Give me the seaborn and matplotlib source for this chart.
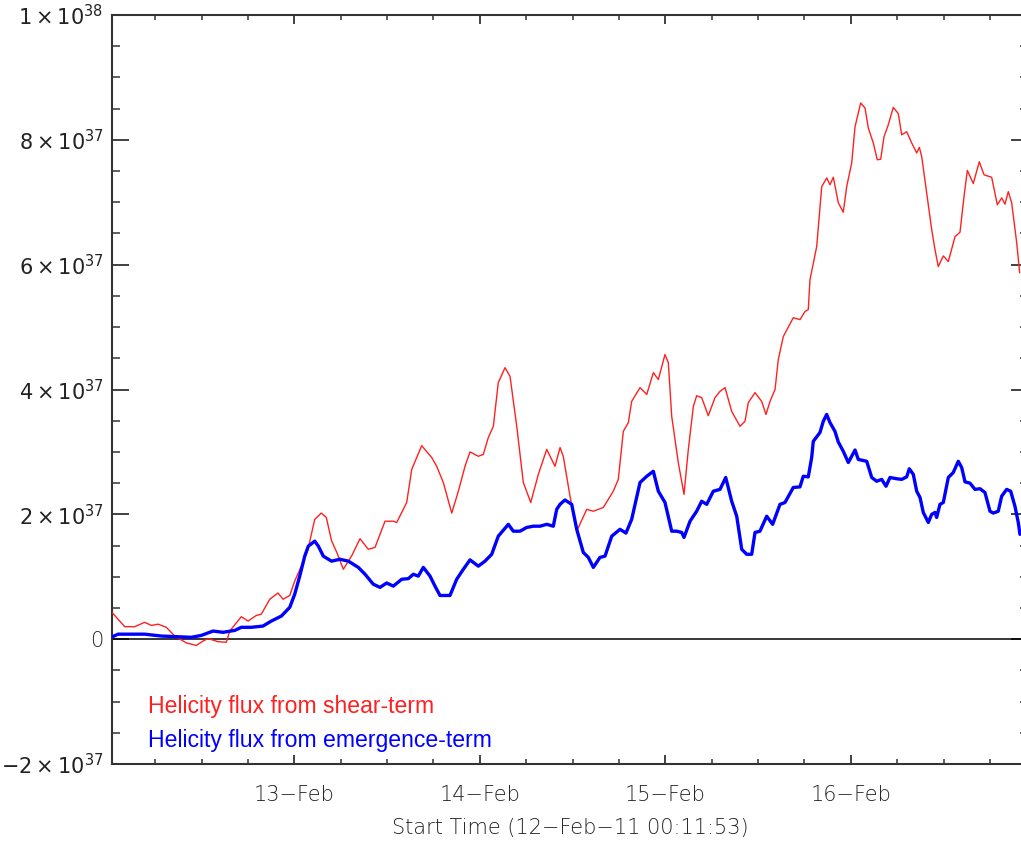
import numpy as np
import pandas as pd
import matplotlib
matplotlib.use("Agg")
import matplotlib.pyplot as plt
import seaborn as sns

# hours since 12-Feb-11 00:00 ; values in units of 1e37
shear_hours = [0.4, 0.97, 2.06, 3.35, 4.64, 5.50, 6.37, 7.44, 8.53, 10.03, 11.32, 12.19, 12.84, 14.13, 15.20,
               15.64, 17.14, 18.01, 19.08, 19.73, 20.82, 21.89, 22.54, 23.41, 24.05, 24.91, 25.77, 26.64, 27.49,
               28.14, 28.81, 29.53, 30.34, 31.40, 32.50, 33.57, 34.44, 35.74, 36.81, 37.25, 38.54, 39.19, 40.48,
               41.78, 42.42, 43.28, 44.37, 45.22, 46.09, 46.73, 47.81, 48.45, 49.10, 49.75, 50.39, 51.26, 51.91,
               52.78, 53.63, 54.59, 55.57, 56.66, 57.73, 58.38, 58.80, 59.67, 60.54, 61.83, 62.69, 63.98, 65.27,
               65.92, 66.57, 67.22, 67.65, 68.73, 69.60, 70.45, 71.10, 71.96, 72.39, 72.83, 73.68, 74.42, 74.98,
               75.63, 76.06, 76.71, 77.56, 78.43, 79.08, 79.73, 80.59, 81.67, 82.31, 82.74, 83.61, 84.47, 85.03,
               85.55, 86.20, 86.62, 87.27, 88.56, 89.43, 90.08, 90.50, 90.72, 91.59, 92.24, 92.89, 93.31, 93.74,
               94.39, 95.03, 95.47, 96.12, 96.55, 97.28, 97.84, 98.27, 98.91, 99.43, 99.87, 100.30, 100.85,
               101.50, 102.15, 102.59, 103.24, 103.88, 104.53, 104.87, 105.18, 105.82, 106.47, 106.90, 107.32,
               107.97, 108.62, 109.49, 110.13, 110.65, 111.08, 111.85, 112.63, 113.24, 114.23, 114.96, 115.53,
               115.95, 116.38, 116.82, 117.47, 117.85]
shear_flux = [0.43, 0.35, 0.20, 0.20, 0.27, 0.22, 0.24, 0.19, 0.05, -0.06, -0.10, -0.03, 0.01, -0.04, -0.05,
              0.13, 0.36, 0.29, 0.38, 0.40, 0.64, 0.74, 0.64, 0.70, 0.93, 1.17, 1.44, 1.92, 2.02,
              1.95, 1.58, 1.38, 1.12, 1.33, 1.61, 1.44, 1.47, 1.89, 1.89, 1.87, 2.19, 2.72, 3.10,
              2.91, 2.77, 2.51, 2.02, 2.37, 2.77, 3.00, 2.93, 2.96, 3.23, 3.41, 4.11, 4.35, 4.21,
              3.41, 2.51, 2.19, 2.64, 3.04, 2.77, 3.07, 2.93, 2.29, 1.73, 2.08, 2.05, 2.11, 2.37,
              2.56, 3.33, 3.47, 3.81, 4.03, 3.92, 4.27, 4.16, 4.56, 4.43, 3.57, 2.83, 2.32, 3.04,
              3.73, 3.90, 3.87, 3.58, 3.87, 3.97, 4.03, 3.65, 3.41, 3.49, 3.79, 3.95, 3.81, 3.60,
              3.81, 4.00, 4.48, 4.85, 5.15, 5.12, 5.25, 5.28, 5.76, 6.29, 7.25, 7.39, 7.28, 7.40,
              6.99, 6.84, 7.25, 7.63, 8.21, 8.59, 8.51, 8.19, 7.95, 7.68, 7.69, 8.05, 8.24,
              8.52, 8.42, 8.08, 8.13, 7.95, 7.79, 7.88, 7.73, 7.15, 6.56, 6.24, 5.97,
              6.14, 6.05, 6.45, 6.52, 7.09, 7.51, 7.30, 7.65, 7.44, 7.40, 6.96, 7.07,
              6.97, 7.17, 6.99, 6.35, 5.87]

emerg_hours = [0.32, 1.19, 2.91, 4.64, 6.79, 10.67, 11.97, 13.48, 14.78, 16.29, 17.14, 18.44, 19.95, 21.02,
               22.32, 23.41, 24.05, 24.70, 25.35, 25.81, 26.64, 27.11, 27.75, 28.81, 29.91, 30.99, 32.28, 33.15,
               34.22, 35.09, 35.95, 36.81, 37.90, 38.75, 39.40, 40.04, 40.69, 41.56, 42.20, 42.85, 44.14, 45.01,
               45.87, 46.73, 47.81, 48.67, 49.54, 50.39, 51.69, 52.33, 53.20, 54.07, 54.92, 55.79, 56.66, 57.51,
               57.95, 58.38, 59.02, 59.89, 60.54, 61.39, 62.04, 62.69, 63.55, 64.20, 65.07, 66.14, 66.91, 67.65,
               68.73, 69.60, 70.45, 71.10, 71.96, 72.83, 73.48, 74.12, 74.42, 75.20, 76.06, 76.71, 77.36, 78.21,
               79.08, 79.82, 80.59, 81.24, 81.89, 82.53, 83.18, 83.61, 84.25, 85.12, 85.89, 86.84, 87.49, 88.56,
               89.43, 89.85, 90.50, 90.94, 91.15, 92.01, 92.44, 92.88, 93.31, 93.95, 94.38, 95.03, 95.68, 96.55,
               96.97, 98.06, 98.71, 99.35, 100.00, 100.56, 101.07, 101.94, 102.59, 103.23, 103.57, 104.09,
               104.53, 104.96, 105.38, 106.03, 106.47, 106.90, 107.11, 107.54, 107.97, 108.62, 109.26, 109.91,
               110.35, 110.78, 111.42, 112.07, 112.72, 113.36, 114.01, 114.44, 115.08, 115.52, 116.17, 116.69,
               117.24, 117.67, 117.89]
emerg_flux = [0.03, 0.08, 0.08, 0.08, 0.05, 0.03, 0.06, 0.13, 0.11, 0.14, 0.19, 0.19, 0.21, 0.29,
              0.37, 0.51, 0.72, 1.01, 1.33, 1.49, 1.57, 1.49, 1.33, 1.25, 1.28, 1.25, 1.15, 1.04,
              0.88, 0.83, 0.90, 0.85, 0.96, 0.97, 1.04, 1.01, 1.15, 1.01, 0.85, 0.70, 0.70, 0.96,
              1.12, 1.27, 1.17, 1.25, 1.36, 1.65, 1.84, 1.73, 1.73, 1.79, 1.81, 1.81, 1.84, 1.81,
              2.08, 2.16, 2.23, 2.16, 1.76, 1.39, 1.31, 1.15, 1.31, 1.33, 1.65, 1.76, 1.70, 1.92,
              2.51, 2.61, 2.69, 2.37, 2.19, 1.73, 1.73, 1.71, 1.63, 1.89, 2.05, 2.21, 2.16, 2.37,
              2.40, 2.59, 2.21, 1.97, 1.44, 1.36, 1.36, 1.71, 1.73, 1.97, 1.84, 2.16, 2.19, 2.43,
              2.44, 2.61, 2.60, 2.91, 3.17, 3.31, 3.49, 3.60, 3.47, 3.33, 3.16, 3.01, 2.83, 3.03,
              2.88, 2.85, 2.59, 2.53, 2.56, 2.45, 2.59, 2.57, 2.56, 2.60, 2.73, 2.64,
              2.37, 2.27, 2.03, 1.87, 2.00, 2.03, 1.95, 2.16, 2.19, 2.59, 2.67, 2.85,
              2.75, 2.52, 2.50, 2.40, 2.41, 2.35, 2.05, 2.02, 2.05, 2.29, 2.40, 2.37,
              2.13, 1.87, 1.68]

ytick_values = [-2, 0, 2, 4, 6, 8, 10]
ytick_labels = [r'$-2\times10^{37}$', '0', r'$2\times10^{37}$', r'$4\times10^{37}$',
                r'$6\times10^{37}$', r'$8\times10^{37}$', r'$1\times10^{38}$']
xtick_values = [24, 48, 72, 96]
xtick_labels = ['13\u2212Feb', '14\u2212Feb', '15\u2212Feb', '16\u2212Feb']
legend_labels = ['Helicity flux from shear-term', 'Helicity flux from emergence-term']
x_title = 'Start Time (12\u2212Feb\u221211 00:11:53)'

sns.set_style('ticks')
plt.rcParams['font.family'] = ['DejaVu Sans']
plt.rcParams['mathtext.fontset'] = 'dejavusans'

W, H = 1021, 842
fig = plt.figure(figsize=(W / 100, H / 100), dpi=100)
left, right, top, bottom = 112, 1028, 15, 764
ax = fig.add_axes([left / W, (H - bottom) / H, (right - left) / W, (bottom - top) / H])

df_s = pd.DataFrame({'h': shear_hours, 'v': shear_flux})
df_e = pd.DataFrame({'h': emerg_hours, 'v': emerg_flux})
ax.axhline(0, color='black', lw=1.1, zorder=1)
sns.lineplot(data=df_s, x='h', y='v', ax=ax, color='#ff2020', lw=1.0, sort=False, estimator=None, zorder=3)
sns.lineplot(data=df_e, x='h', y='v', ax=ax, color='#0000ff', lw=2.4, sort=False, estimator=None, zorder=4)

ax.set_xlim(0.41, 118.93)
ax.set_ylim(-2, 10)

for s in ax.spines.values():
    s.set_color('#333333')
    s.set_linewidth(1.5)

ax.set_yticks(ytick_values)
ax.set_yticklabels(ytick_labels)
ax.set_yticks(np.arange(-2, 10.01, 0.5), minor=True)
ax.set_xticks(xtick_values)
ax.set_xticklabels(xtick_labels)
ax.set_xticks(np.arange(6, 118, 6), minor=True)

ax.tick_params(axis='y', which='major', direction='in', length=12.5, width=1.3, color='#333333',
               left=True, right=True, labelsize=15, pad=6, labelcolor='#222222')
ax.tick_params(axis='y', which='minor', direction='in', length=6, width=1.1, color='#333333',
               left=True, right=True)
ax.tick_params(axis='x', which='major', direction='in', length=6.5, width=1.3, color='#333333',
               bottom=True, top=True, labelsize=15, pad=15, labelcolor='#222222')
ax.tick_params(axis='x', which='minor', direction='in', length=3.4, width=1.1, color='#333333',
               bottom=True, top=True)
for lab in ax.get_xticklabels() + ax.get_yticklabels():
    lab.set_fontweight('light')

ax.set_xlabel(x_title, fontsize=15, color='#222222', labelpad=8, fontweight='light')
ax.xaxis.set_label_coords((570 - left) / (right - left), -(818 - bottom) / (bottom - top))
ax.set_ylabel('')

fx = (148 - left) / (right - left)
ax.text(fx, (bottom - 707) / (bottom - top), legend_labels[0], color='#ff2020', fontsize=16.6,
        family=['Liberation Sans Narrow', 'Liberation Sans', 'DejaVu Sans'], va='center', ha='left',
        transform=ax.transAxes)
ax.text(fx, (bottom - 740) / (bottom - top), legend_labels[1], color='#0000ff', fontsize=16.6,
        family=['Liberation Sans Narrow', 'Liberation Sans', 'DejaVu Sans'], va='center', ha='left',
        transform=ax.transAxes)

fig.savefig('out.png', dpi=100)
